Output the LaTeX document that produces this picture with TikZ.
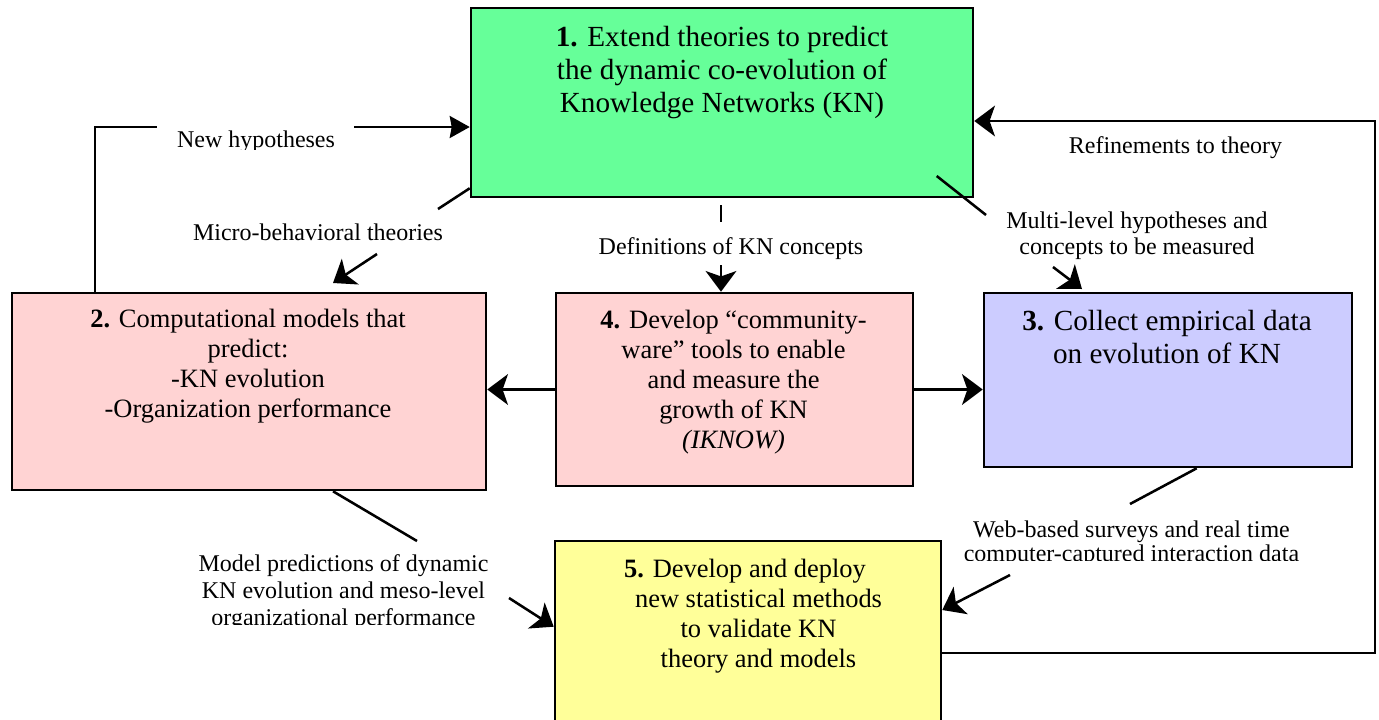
\documentclass[tikz,border=0pt]{standalone}
\usepackage{fontspec}
\setmainfont{Liberation Serif}
\usetikzlibrary{arrows.meta,calc}
\definecolor{kngreen}{HTML}{66FF99}
\definecolor{knpink}{HTML}{FFD3D3}
\definecolor{knblue}{HTML}{CCCCFF}
\definecolor{knyellow}{HTML}{FFFF99}
\newcommand{\tstrut}{\rule{0pt}{20pt}}
\begin{document}
\begin{tikzpicture}[x=0.75pt,y=-0.75pt,
  box/.style={draw=black, line width=1.9pt, inner sep=0pt, rectangle},
  bigtext/.style={anchor=north, align=center, inner sep=0pt, font=\fontsize{21.9}{24.75}\selectfont},
  midtext/.style={anchor=north, align=center, inner sep=0pt, font=\fontsize{19.85}{22.6}\selectfont},
  lbl/.style={anchor=north, align=center, inner sep=0pt, font=\fontsize{18}{20.25}\selectfont},
  conn/.style={line width=1.9pt, draw=black},
  arr/.style={conn, -{Stealth[length=15.5pt, width=23pt, inset=4pt]}},
  arrsmall/.style={conn, -{Stealth[length=15pt, width=16.5pt, inset=1.5pt]}},
]
\useasboundingbox (0,0) rectangle (1379,719);
\clip (0,0) rectangle (1379,719);

% boxes
\node[box, fill=kngreen, minimum width=502*0.75pt, minimum height=189*0.75pt] (b1) at (722,102.5) {};
\node[box, fill=knpink, minimum width=474*0.75pt, minimum height=197*0.75pt] (b2) at (249,391.5) {};
\node[box, fill=knpink, minimum width=357*0.75pt, minimum height=193*0.75pt] (b4) at (734.5,389.5) {};
\node[box, fill=knblue, minimum width=368*0.75pt, minimum height=174*0.75pt] (b3) at (1168,380) {};
\node[box, fill=knyellow, minimum width=386*0.75pt, minimum height=219*0.75pt] (b5) at (748,650.5) {};

% box texts
\node[bigtext] (t1) at (722,19.33) {\tstrut\textbf{1.} Extend theories to predict\\the dynamic co-evolution of\\Knowledge Networks (KN)};
\node[midtext] (t2) at (248,300.33) {\tstrut\textbf{2.} Computational models that\\predict:\\-KN evolution\\-Organization performance};
\node[midtext] (t4) at (733.5,301.33) {\tstrut\textbf{4.} Develop “community-\\ware” tools to enable\\and measure the\\growth of KN\\\textit{(IKNOW)}};
\node[bigtext] (t3) at (1167,303.33) {\tstrut\textbf{3.} Collect empirical data\\on evolution of KN};
\node[midtext] (t5) at (758.5,550.33) {\tstrut\textbf{5.} Develop and deploy\hspace*{20.25pt}\\new statistical methods\\to validate KN\\theory and models};

% labels (some are cut off at the bottom, as in the original)
\begin{scope}
\clip (150,100) rectangle (360,149);
\node[lbl] (lNH) at (256,120.33) {\tstrut New hypotheses};
\end{scope}
\node[lbl] (lMB) at (318,213.33) {\tstrut Micro-behavioral theories};
\node[lbl] (lDef) at (731,227.33) {\tstrut Definitions of KN concepts};
\node[lbl, font=\fontsize{18}{19.9}\selectfont] (lML) at (1137,201.33) {\tstrut Multi-level hypotheses and\\concepts to be measured};
\node[lbl] (lRef) at (1175.5,126.33) {\tstrut Refinements to theory};
\begin{scope}
\clip (950,505) rectangle (1320,560);
\node[lbl, font=\fontsize{18}{18.5}\selectfont] (lWeb) at (1131.5,510.33) {\tstrut Web-based surveys and real time\\computer-captured interaction data};
\end{scope}
\begin{scope}
\clip (190,540) rectangle (500,624.5);
\node[lbl] (lMod) at (343.5,545) {\tstrut Model predictions of dynamic\\KN evolution and meso-level\\organizational performance};
\end{scope}

% coordinates for connector breaks
\coordinate (nhc) at (95,127);
\coordinate (nh1) at (157,127);
\coordinate (nh2) at (354,127);
\coordinate (mb1) at (438,209);
\coordinate (mb2) at (377,254);
\coordinate (mbt) at (333,283);
\coordinate (df1) at (721,205);
\coordinate (df2) at (721,222);
\coordinate (df3) at (721,265);
\coordinate (ml1) at (936.7,176);
\coordinate (ml2) at (986,215);
\coordinate (ml3) at (1053,267);
\coordinate (ml4) at (1082,289);
\coordinate (rf1) at (1375,653);
\coordinate (rf2) at (1375,121);
\coordinate (wb0) at (1196.7,467);
\coordinate (wb1) at (1130,504);
\coordinate (wb2) at (1010,575);
\coordinate (wbt) at (941,610);
\coordinate (mp0) at (333,490);
\coordinate (mp1) at (417,541);
\coordinate (mp2) at (509,598);
\coordinate (mpt) at (555,626.7);

% New hypotheses
\draw[conn] (b2.north -| nhc) -- (nhc) -- (nh1);
\draw[arrsmall] (nh2) -- (nh2 -| b1.west);
% Micro-behavioral theories
\draw[conn] ($(b1.south west)+(0,-10)$) -- (mb1);
\draw[arr] (mb2) -- (mbt);
% Definitions
\draw[conn] (df1) -- (df2);
\draw[arr] (df3) -- (b4.north -| df3);
% Multi-level
\draw[conn] (ml1) -- (ml2);
\draw[arr] (ml3) -- (ml4);
% Refinements
\draw[arr] (b5.east |- rf1) -- (rf1) -- (rf2) -- (b1.east |- rf2);
% Box 4 to boxes 2 and 3
\draw[arr] (b4.west) -- (b2.east |- b4.west);
\draw[arr] (b4.east) -- (b3.west |- b4.east);
% Web-based surveys
\draw[conn] (b3.south -| wb0) -- (wb1);
\draw[arr] (wb2) -- (b5.east |- wbt);
% Model predictions
\draw[conn] (b2.south -| mp0) -- (mp1);
\draw[arr] (mp2) -- (b5.west |- mpt);
\end{tikzpicture}
\end{document}
